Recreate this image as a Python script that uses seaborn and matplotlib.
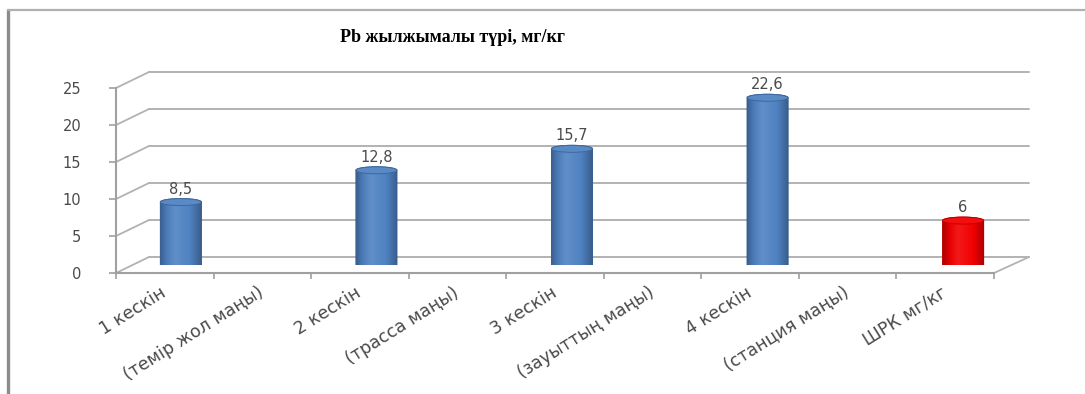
import numpy as np
import pandas as pd
import matplotlib
matplotlib.use("Agg")
import matplotlib.pyplot as plt
from matplotlib.colors import LinearSegmentedColormap, to_rgb
from matplotlib.patches import Ellipse, Polygon
from matplotlib.lines import Line2D
import seaborn as sns

# ---- data -------------------------------------------------------------
categories = ["1 кескін", "(темір жол маңы)", "2 кескін", "(трасса маңы)",
              "3 кескін", "(зауыттың маңы)", "4 кескін", "(станция маңы)",
              "ШРК мг/кг"]
values = [8.5, np.nan, 12.8, np.nan, 15.7, np.nan, 22.6, np.nan, 6.0]
bar_colors = ["#4F82C2"] * 8 + ["#F20000"]
y_ticks = [0, 5, 10, 15, 20, 25]
title = "Pb жылжымалы түрі, мг/кг"

# ---- style ------------------------------------------------------------
sns.set_theme(style="white")
plt.rcParams["font.family"] = ["DejaVu Sans"]

W, H = 1085, 394
fig = plt.figure(figsize=(W / 100, H / 100), dpi=100)
fig.patch.set_facecolor("white")

GRID = "#B2B2B2"
AXIS = "#A0A0A0"
TXT = "#4A4A4A"


def px_axes(x0, y_top, x1, y_bot):
    return fig.add_axes([x0 / W, 1 - y_bot / H, (x1 - x0) / W, (y_bot - y_top) / H])


# back wall (gridlines), middle depth (bars), front plane (axes, ticks)
ax_back = px_axes(149, 72, 1029, 257)
ax_bar = px_axes(132, 80, 1012, 265)
ax_front = px_axes(116, 88, 994, 273)

for z, ax in enumerate([ax_back, ax_bar, ax_front]):
    ax.set_zorder(z)
    ax.patch.set_visible(False)
    ax.set_xlim(-0.5, len(categories) - 0.5)
    ax.set_ylim(0, 25)

# back wall
ax_back.set_yticks(y_ticks)
ax_back.set_xticks([])
ax_back.tick_params(left=False, labelleft=False)
ax_back.grid(axis="y", color=GRID, lw=1.4)
ax_back.grid(axis="x", visible=False)
for gl in ax_back.get_ygridlines():
    gl.set_clip_on(False)
for s in ax_back.spines.values():
    s.set_visible(False)

# bars
df = pd.DataFrame({"category": categories, "value": values})
sns.barplot(data=df, x="category", y="value", hue="category",
            order=categories, hue_order=categories, palette=bar_colors,
            saturation=1, width=0.42, legend=False, ax=ax_bar)
ax_bar.set_xlim(-0.5, len(categories) - 0.5)
ax_bar.set_ylim(0, 25)
ax_bar.set_xlabel("")
ax_bar.set_ylabel("")
ax_bar.set_xticks([])
ax_bar.set_yticks([])
for s in ax_bar.spines.values():
    s.set_visible(False)

fig.canvas.draw()
px_per_unit = ax_bar.transData.transform((0, 1))[1] - ax_bar.transData.transform((0, 0))[1]
ell_h = 7.0 / px_per_unit


def shade(c, f):
    c = np.array(to_rgb(c))
    return tuple(np.clip(c * f, 0, 1))


def tint(c, f):
    c = np.array(to_rgb(c))
    return tuple(c + (1 - c) * f)


for patch in list(ax_bar.patches):
    h = patch.get_height()
    if not np.isfinite(h) or h <= 0:
        continue
    x0, w = patch.get_x(), patch.get_width()
    cx = x0 + w / 2
    base = patch.get_facecolor()[:3]
    patch.set_edgecolor("none")

    # cylinder silhouette: bottom half-ellipse + body + top half-ellipse
    t1 = np.linspace(np.pi, 2 * np.pi, 40)
    t2 = np.linspace(0, np.pi, 40)
    pts = np.vstack([
        np.column_stack([cx + w / 2 * np.cos(t1), 0 + ell_h / 2 * np.sin(t1)]),
        np.column_stack([cx + w / 2 * np.cos(t2), h + ell_h / 2 * np.sin(t2)]),
    ])
    body = Polygon(pts, closed=True, facecolor=base, edgecolor=shade(base, 0.75),
                   lw=0.7, zorder=3)
    ax_bar.add_patch(body)

    cmap = LinearSegmentedColormap.from_list(
        "cyl", [(0.0, shade(base, 0.72)), (0.16, shade(base, 0.95)),
                (0.36, tint(base, 0.1)), (0.72, base), (1.0, shade(base, 0.7))])
    grad = np.linspace(0, 1, 256).reshape(1, -1)
    im = ax_bar.imshow(grad, extent=[x0, x0 + w, -ell_h, h + ell_h], cmap=cmap,
                       aspect="auto", zorder=3.5, interpolation="bicubic")
    im.set_clip_path(body)

    top = Ellipse((cx, h), w, ell_h, facecolor=tint(base, 0.06),
                  edgecolor=shade(base, 0.8), lw=0.7, zorder=4)
    ax_bar.add_patch(top)

    ax_bar.annotate(f"{h:g}".replace(".", ","), (cx, h), xytext=(0, 6),
                    textcoords="offset points", ha="center", va="baseline",
                    fontsize=10.5, color=TXT, zorder=5)

ax_bar.set_xlim(-0.5, len(categories) - 0.5)
ax_bar.set_ylim(0, 25)

# front plane: value axis and category axis
ax_front.set_yticks(y_ticks)
ax_front.set_yticklabels([str(v) for v in y_ticks])
ax_front.set_xticks(range(len(categories)))
ax_front.set_xticklabels(categories)
ax_front.set_xticks(np.arange(-0.5, len(categories), 1), minor=True)
ax_front.tick_params(axis="y", which="major", left=True, length=5, width=1.2,
                     color=AXIS, pad=20, labelsize=10.5, labelcolor=TXT)
ax_front.tick_params(axis="x", which="major", bottom=True, length=0, pad=13,
                     labelsize=12.5, labelcolor=TXT)
ax_front.tick_params(axis="x", which="minor", bottom=True, length=4, width=1.2,
                     color=AXIS)
for lab in ax_front.get_xticklabels():
    lab.set_rotation(32)
    lab.set_rotation_mode("anchor")
    lab.set_ha("right")
    lab.set_va("center")
ax_front.grid(False)
for side in ["top", "right"]:
    ax_front.spines[side].set_visible(False)
for side in ["left", "bottom"]:
    ax_front.spines[side].set_color(AXIS)
    ax_front.spines[side].set_linewidth(1.5)

# side wall and floor edges joining the front plane to the back wall
inv = fig.transFigure.inverted()


def connect(xv, yv, color, lw):
    p0 = inv.transform(ax_front.transData.transform((xv, yv)))
    p1 = inv.transform(ax_back.transData.transform((xv, yv)))
    fig.add_artist(Line2D([p0[0], p1[0]], [p0[1], p1[1]], color=color, lw=lw,
                          zorder=0.5))


for v in y_ticks:
    connect(-0.5, v, GRID, 1.3)
connect(len(categories) - 0.5, 0, GRID, 1.3)

# title
fig.text(453 / W, 1 - 37 / H, title, ha="center", va="center",
         fontsize=13, fontweight="bold", family=["Liberation Serif"],
         color="black")

# chart-area border
fig.add_artist(Line2D([8 / W, 8 / W], [1 - 10 / H, 0], color="#8C8C8C", lw=2.4))
fig.add_artist(Line2D([8 / W, 1], [1 - 10 / H, 1 - 10 / H], color="#B0B0B0", lw=1.6))

fig.savefig("out.png", dpi=100, facecolor="white")
